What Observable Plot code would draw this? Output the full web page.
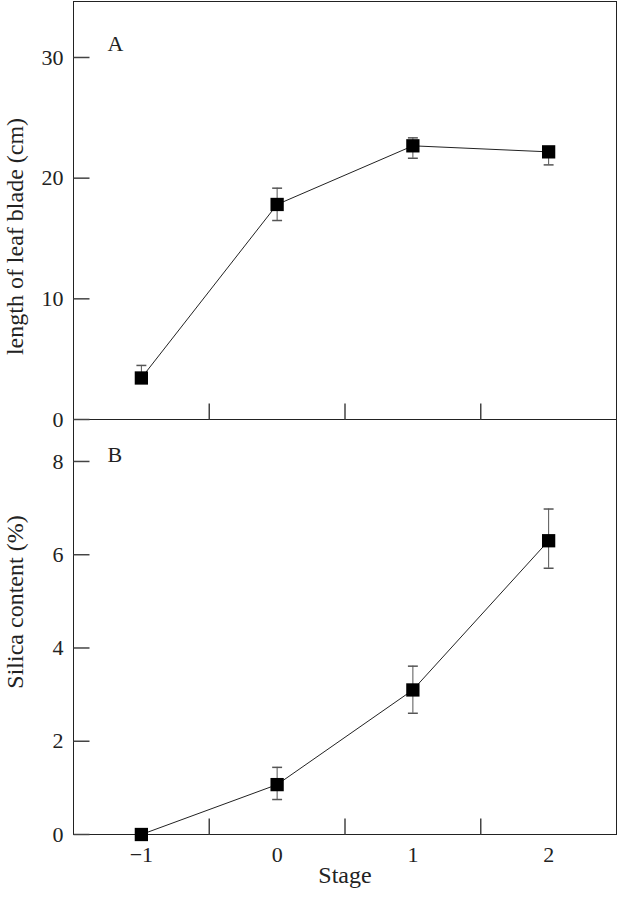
<!DOCTYPE html>
<html><head><meta charset="utf-8">
<script src="https://cdn.jsdelivr.net/npm/d3@7"></script>
<script src="https://cdn.jsdelivr.net/npm/@observablehq/plot@0.6"></script>
<style>
body{margin:0;background:#fff;}
#wrap{position:relative;width:617px;height:899px;overflow:hidden;}
#wrap svg{position:absolute;left:0;}
</style></head><body><div id="wrap"></div>
<script>
const stages = [-1, 0, 1, 2];
const leafMean = [3.44, 17.82, 22.68, 22.18];
const leafErrUp = [1.04, 1.35, 0.66, 0];
const leafErrDown = [0, 1.33, 1.03, 1.08];
const silicaMean = [0.0, 1.07, 3.1, 6.3];
const silicaErrUp = [0, 0.37, 0.51, 0.68];
const silicaErrDown = [0, 0.32, 0.5, 0.59];
const leafTicks = [0, 10, 20, 30];
const silicaTicks = [0, 2, 4, 6, 8];
const stageDividers = [-0.5, 0.5, 1.5];
const xLabel = "Stage";
const leafLabel = "length of leaf blade (cm)";
const silicaLabel = "Silica content (%)";

const leafRows = stages.map((s, i) => ({stage: s, mean: leafMean[i], up: leafErrUp[i], down: leafErrDown[i]}));
const silicaRows = stages.map((s, i) => ({stage: s, mean: silicaMean[i], up: silicaErrUp[i], down: silicaErrDown[i]}));

const capSymbol = {draw(ctx, size) { const w = Math.sqrt(size) / 2; ctx.moveTo(-w, 0); ctx.lineTo(w, 0); }};
const tickRight = {draw(ctx) { ctx.moveTo(0, 0); ctx.lineTo(16, 0); }};
const tickUp = {draw(ctx) { ctx.moveTo(0, 0); ctx.lineTo(0, -16); }};

const font = "'Liberation Serif', 'Times New Roman', serif";
const style = {fontFamily: font, fontSize: "22px", background: "none", color: "#222", overflow: "visible"};

function dataMarks(rows, yTicks) {
  const withErr = rows.filter(d => d.up > 0 || d.down > 0);
  return [
    Plot.frame({stroke: "#222"}),
    Plot.dot(yTicks, {y: d => d, frameAnchor: "left", symbol: tickRight, stroke: "#444", fill: "none"}),
    Plot.dot(stageDividers, {x: d => d, frameAnchor: "bottom", symbol: tickUp, stroke: "#444", fill: "none"}),
    Plot.ruleX(withErr, {x: "stage", y1: d => d.mean - d.down, y2: d => d.mean + d.up, stroke: "#555", strokeWidth: 1}),
    Plot.dot(rows.filter(d => d.up > 0), {x: "stage", y: d => d.mean + d.up, symbol: capSymbol, r: 5.6, stroke: "#555", fill: "none"}),
    Plot.dot(rows.filter(d => d.down > 0), {x: "stage", y: d => d.mean - d.down, symbol: capSymbol, r: 5.6, stroke: "#555", fill: "none"}),
    Plot.line(rows, {x: "stage", y: "mean", stroke: "#222", strokeWidth: 1}),
    Plot.dot(rows, {x: "stage", y: "mean", symbol: "square", r: 7.5, fill: "#000", stroke: "none"})
  ];
}

const plotA = Plot.plot({
  width: 617, height: 420,
  marginLeft: 73, marginRight: 1, marginTop: 1, marginBottom: 1,
  style,
  x: {domain: [-1.5, 2.5], axis: null},
  y: {domain: [0, 34.64], ticks: leafTicks, tickSize: 0, tickPadding: 10, label: null},
  marks: [
    ...dataMarks(leafRows, leafTicks),
    Plot.text([leafLabel], {text: d => d, frameAnchor: "left", textAnchor: "middle", dx: -58, dy: 26, rotate: -90, fontSize: 24, fill: "#222"}),
    Plot.text(["A"], {text: d => d, frameAnchor: "top-left", dx: 34, dy: 34, textAnchor: "start", fontSize: 22, fill: "#222"})
  ]
});

const plotB = Plot.plot({
  width: 617, height: 481,
  marginLeft: 73, marginRight: 1, marginTop: 1, marginBottom: 65,
  style,
  x: {domain: [-1.5, 2.5], ticks: stages, tickFormat: d3.format("d"), tickSize: 0, tickPadding: 12, label: null},
  y: {domain: [0, 8.9], ticks: silicaTicks, tickSize: 0, tickPadding: 10, label: null},
  marks: [
    ...dataMarks(silicaRows, silicaTicks),
    Plot.text([silicaLabel], {text: d => d, frameAnchor: "left", textAnchor: "middle", dx: -58, dy: -25, rotate: -90, fontSize: 24, fill: "#222"}),
    Plot.text(["B"], {text: d => d, frameAnchor: "top-left", dx: 34, dy: 27, textAnchor: "start", fontSize: 22, fill: "#222"}),
    Plot.text([xLabel], {text: d => d, frameAnchor: "bottom", dy: 48, fontSize: 24, fill: "#222"})
  ]
});

plotB.style.top = "418px";
plotA.style.top = "0px";
const wrap = document.getElementById("wrap");
wrap.appendChild(plotB);
wrap.appendChild(plotA);
</script></body></html>
